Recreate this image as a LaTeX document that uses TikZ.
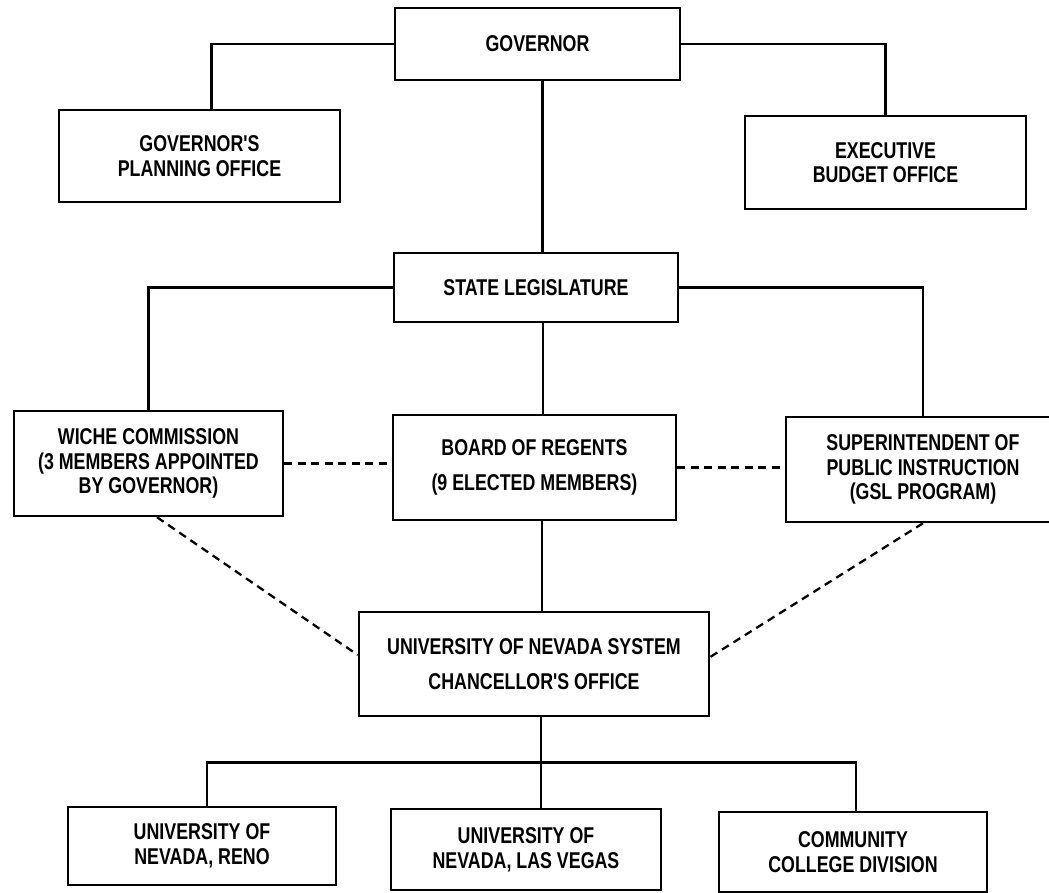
\documentclass[tikz,border=0pt]{standalone}
\usepackage{fontspec}
\newfontfamily\chartfont[FakeStretch=0.78]{Liberation Sans}
\usetikzlibrary{calc}

\begin{document}
\begin{tikzpicture}[
    x=0.02cm, y=-0.02cm,
    office/.style={draw, line width=1.4pt, align=center, inner sep=2pt, font=\chartfont\bfseries\fontsize{13}{14}\selectfont},
    link/.style={line width=1.3pt},
    dotlink/.style={line width=1.3pt, dash pattern=on 0.16cm off 0.11cm}
]
\useasboundingbox (0,0) rectangle (1049,893);

\node[office, minimum width=5.70cm, minimum height=1.44cm] (gov) at (537.5, 44) {GOVERNOR};
\node[office, minimum width=5.62cm, minimum height=1.84cm] (plan) at (199.5, 156) {GOVERNOR'S\\PLANNING OFFICE};
\node[office, minimum width=5.62cm, minimum height=1.86cm] (budget) at (885.5, 162.5) {EXECUTIVE\\BUDGET OFFICE};

\node[office, minimum width=5.68cm, minimum height=1.38cm] (leg) at (536, 287.5) {STATE LEGISLATURE};

\node[office, minimum width=5.38cm, minimum height=2.10cm] (wiche) at (148.5, 463.5) {WICHE COMMISSION\\(3 MEMBERS APPOINTED\\BY GOVERNOR)};
\node[office, minimum width=5.66cm, minimum height=2.10cm] (regents) at (534.5, 467.5) {BOARD OF REGENTS\\[6pt](9 ELECTED MEMBERS)};
\node[office, minimum width=5.48cm, minimum height=2.10cm] (super) at (923, 469.5) {SUPERINTENDENT OF\\PUBLIC INSTRUCTION\\(GSL PROGRAM)};

\node[office, minimum width=7.00cm, minimum height=2.08cm] (uns) at (534, 664) {UNIVERSITY OF NEVADA SYSTEM\\[6pt]CHANCELLOR'S OFFICE};

\node[office, minimum width=5.36cm, minimum height=1.56cm] (reno) at (202, 846) {UNIVERSITY OF\\NEVADA, RENO};
\node[office, minimum width=5.40cm, minimum height=1.62cm] (vegas) at (526, 849.5) {UNIVERSITY OF\\NEVADA, LAS VEGAS};
\node[office, minimum width=5.36cm, minimum height=1.60cm] (ccd) at (853, 852) {COMMUNITY\\COLLEGE DIVISION};

\draw[link] (gov.west) -| ([xshift=0.24cm]plan.north);
\draw[link] (gov.east) -| (budget.north);
\draw[link] ([xshift=0.1cm]gov.south) -- ([xshift=0.1cm]gov.south |- leg.north);

\draw[link] (leg.west) -| (wiche.north);
\draw[link] (leg.east) -| (super.north);
\draw[link] ([xshift=0.14cm]leg.south) -- ([xshift=0.14cm]leg.south |- regents.north);
\draw[link] ([xshift=0.15cm]regents.south) -- ([xshift=0.15cm]regents.south |- uns.north);

\draw[dotlink] (wiche.east) -- (wiche.east -| regents.west);
\draw[dotlink] (regents.east) -- (regents.east -| super.west);
\draw[dotlink] ([xshift=0.17cm]wiche.south) -- ([yshift=0.18cm]uns.west);
\draw[dotlink] (super.south) -- ([yshift=0.14cm]uns.east);

\coordinate (split) at ($(uns.south)!0.5!(vegas.north)$);
\draw[link] ([xshift=0.14cm]uns.south) -- ([xshift=0.14cm]uns.south |- vegas.north);
\draw[link] ([xshift=0.1cm]reno.north) |- (split) -| ([xshift=0.06cm]ccd.north);

\end{tikzpicture}
\end{document}
